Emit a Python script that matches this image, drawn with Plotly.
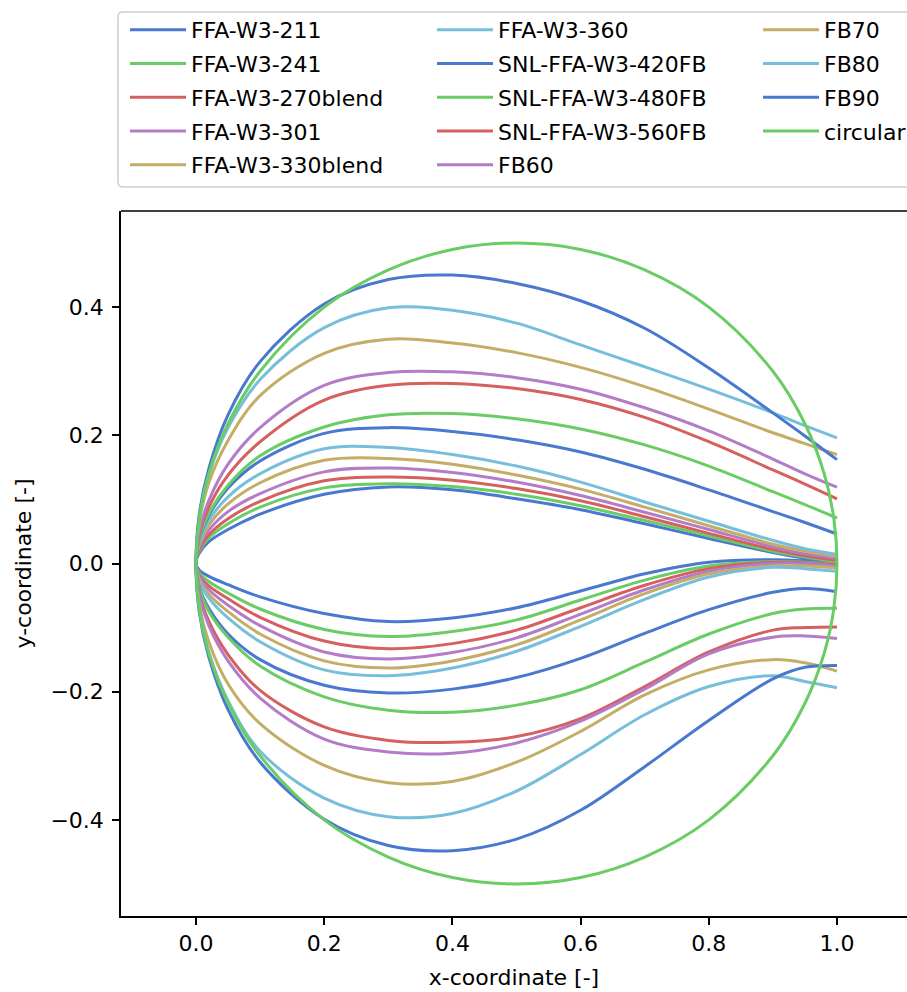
import plotly.graph_objects as go

# Chordwise stations (x/c) shared by the airfoil surfaces, leading edge first
X_STATIONS = [0.0, 0.005, 0.02, 0.05, 0.1, 0.2, 0.3, 0.4, 0.5, 0.6, 0.7, 0.8, 0.9, 0.95, 1.0]

# Upper (suction) and lower (pressure) surface ordinates y/c at X_STATIONS
FFA_W3_211_UP = [0.0, 0.016, 0.034, 0.053, 0.077, 0.108, 0.1195, 0.115, 0.101, 0.084, 0.062, 0.039, 0.017, 0.008, 0.001]
FFA_W3_211_LO = [0.0, -0.010, -0.020, -0.033, -0.052, -0.078, -0.0905, -0.085, -0.069, -0.043, -0.016, 0.002, 0.006, 0.004, 0.0]

FFA_W3_241_UP = [0.0, 0.019, 0.040, 0.062, 0.088, 0.118, 0.1245, 0.120, 0.108, 0.090, 0.067, 0.043, 0.019, 0.010, 0.003]
FFA_W3_241_LO = [0.0, -0.014, -0.028, -0.046, -0.071, -0.103, -0.114, -0.106, -0.088, -0.057, -0.026, -0.004, 0.003, 0.002, -0.001]

FFA_W3_270_UP = [0.0, 0.022, 0.045, 0.070, 0.097, 0.129, 0.135, 0.130, 0.117, 0.098, 0.073, 0.047, 0.022, 0.012, 0.005]
FFA_W3_270_LO = [0.0, -0.018, -0.035, -0.055, -0.084, -0.121, -0.133, -0.125, -0.104, -0.069, -0.034, -0.008, 0.002, 0.001, -0.002]

FFA_W3_301_UP = [0.0, 0.026, 0.052, 0.081, 0.109, 0.143, 0.149, 0.142, 0.127, 0.106, 0.080, 0.053, 0.026, 0.015, 0.008]
FFA_W3_301_LO = [0.0, -0.021, -0.041, -0.065, -0.097, -0.138, -0.149, -0.139, -0.116, -0.079, -0.041, -0.012, 0.000, 0.000, -0.004]

FFA_W3_330_UP = [0.0, 0.030, 0.060, 0.093, 0.126, 0.161, 0.164, 0.155, 0.138, 0.116, 0.088, 0.059, 0.030, 0.019, 0.011]
FFA_W3_330_LO = [0.0, -0.025, -0.048, -0.075, -0.110, -0.152, -0.163, -0.152, -0.127, -0.088, -0.047, -0.016, -0.004, -0.004, -0.007]

FFA_W3_360_UP = [0.0, 0.034, 0.067, 0.104, 0.140, 0.179, 0.181, 0.170, 0.152, 0.127, 0.096, 0.066, 0.036, 0.023, 0.014]
FFA_W3_360_LO = [0.0, -0.028, -0.054, -0.085, -0.122, -0.166, -0.175, -0.163, -0.137, -0.098, -0.056, -0.021, -0.006, -0.008, -0.012]

SNL_420FB_UP = [0.0, 0.038, 0.075, 0.118, 0.160, 0.203, 0.212, 0.206, 0.193, 0.174, 0.147, 0.115, 0.081, 0.064, 0.046]
SNL_420FB_LO = [0.0, -0.036, -0.070, -0.110, -0.150, -0.190, -0.202, -0.196, -0.178, -0.148, -0.109, -0.072, -0.045, -0.039, -0.044]

SNL_480FB_UP = [0.0, 0.040, 0.078, 0.122, 0.168, 0.213, 0.232, 0.234, 0.226, 0.210, 0.185, 0.152, 0.112, 0.092, 0.071]
SNL_480FB_LO = [0.0, -0.038, -0.075, -0.115, -0.160, -0.208, -0.229, -0.232, -0.221, -0.197, -0.154, -0.110, -0.078, -0.071, -0.070]

SNL_560FB_UP = [0.0, 0.045, 0.088, 0.138, 0.190, 0.255, 0.278, 0.281, 0.273, 0.256, 0.228, 0.190, 0.146, 0.124, 0.101]
SNL_560FB_LO = [0.0, -0.046, -0.090, -0.142, -0.198, -0.255, -0.276, -0.279, -0.270, -0.242, -0.192, -0.138, -0.104, -0.100, -0.099]

FB60_UP = [0.0, 0.050, 0.098, 0.155, 0.212, 0.278, 0.298, 0.299, 0.290, 0.272, 0.243, 0.207, 0.163, 0.140, 0.119]
FB60_LO = [0.0, -0.050, -0.097, -0.152, -0.210, -0.274, -0.294, -0.296, -0.280, -0.246, -0.196, -0.141, -0.115, -0.113, -0.117]

FB70_UP = [0.0, 0.064, 0.126, 0.192, 0.262, 0.328, 0.350, 0.344, 0.329, 0.306, 0.276, 0.241, 0.204, 0.187, 0.170]
FB70_LO = [0.0, -0.063, -0.122, -0.188, -0.250, -0.315, -0.342, -0.340, -0.310, -0.262, -0.205, -0.166, -0.150, -0.155, -0.168]

FB80_UP = [0.0, 0.070, 0.138, 0.212, 0.287, 0.368, 0.399, 0.395, 0.375, 0.341, 0.307, 0.272, 0.235, 0.215, 0.196]
FB80_LO = [0.0, -0.070, -0.138, -0.214, -0.293, -0.366, -0.395, -0.390, -0.355, -0.298, -0.236, -0.192, -0.175, -0.184, -0.194]

FB90_UP = [0.0, 0.076, 0.148, 0.232, 0.315, 0.405, 0.443, 0.450, 0.437, 0.410, 0.367, 0.305, 0.235, 0.199, 0.162]
FB90_LO = [0.0, -0.075, -0.146, -0.228, -0.310, -0.399, -0.440, -0.448, -0.430, -0.385, -0.317, -0.245, -0.180, -0.162, -0.159]

# Circular section, sampled on its own stations
CIRCLE_X = [0.0, 0.005, 0.02, 0.05, 0.1, 0.2, 0.3, 0.4, 0.5, 0.6, 0.7, 0.8, 0.9, 0.95, 0.98, 0.995, 1.0]
CIRCLE_UP = [0.0, 0.0705, 0.140, 0.218, 0.300, 0.400, 0.458, 0.490, 0.500, 0.490, 0.458, 0.400, 0.300, 0.218, 0.140, 0.0705, 0.0]
CIRCLE_LO = [0.0, -0.0705, -0.140, -0.218, -0.300, -0.400, -0.458, -0.490, -0.500, -0.490, -0.458, -0.400, -0.300, -0.218, -0.140, -0.0705, 0.0]

LABELS = ["FFA-W3-211", "FFA-W3-241", "FFA-W3-270blend", "FFA-W3-301", "FFA-W3-330blend",
          "FFA-W3-360", "SNL-FFA-W3-420FB", "SNL-FFA-W3-480FB", "SNL-FFA-W3-560FB", "FB60",
          "FB70", "FB80", "FB90", "circular"]

X_TICKS = [0.0, 0.2, 0.4, 0.6, 0.8, 1.0]
X_TICK_TEXT = ["0.0", "0.2", "0.4", "0.6", "0.8", "1.0"]
Y_TICKS = [-0.4, -0.2, 0.0, 0.2, 0.4]
Y_TICK_TEXT = ["\u22120.4", "\u22120.2", "0.0", "0.2", "0.4"]

PALETTE = ["#4878CF", "#6ACC65", "#D65F5F", "#B47CC7", "#C4AD66", "#77BEDB"]

SURFACES = [
    (X_STATIONS, FFA_W3_211_UP, FFA_W3_211_LO),
    (X_STATIONS, FFA_W3_241_UP, FFA_W3_241_LO),
    (X_STATIONS, FFA_W3_270_UP, FFA_W3_270_LO),
    (X_STATIONS, FFA_W3_301_UP, FFA_W3_301_LO),
    (X_STATIONS, FFA_W3_330_UP, FFA_W3_330_LO),
    (X_STATIONS, FFA_W3_360_UP, FFA_W3_360_LO),
    (X_STATIONS, SNL_420FB_UP, SNL_420FB_LO),
    (X_STATIONS, SNL_480FB_UP, SNL_480FB_LO),
    (X_STATIONS, SNL_560FB_UP, SNL_560FB_LO),
    (X_STATIONS, FB60_UP, FB60_LO),
    (X_STATIONS, FB70_UP, FB70_LO),
    (X_STATIONS, FB80_UP, FB80_LO),
    (X_STATIONS, FB90_UP, FB90_LO),
    (CIRCLE_X, CIRCLE_UP, CIRCLE_LO),
]

LEGEND_IDS = ["legend", "legend2", "legend3"]
LEGEND_LEFT_PX = [125, 432, 758]

FONT = "DejaVu Sans"
FS = 22
W, H = 907, 992
ML, MT, MB = 121, 211, 76
PLOT_W = W - ML
PLOT_H = H - MT - MB


def px_x(p):
    return (p - ML) / PLOT_W


def px_y(p):
    return (H - MB - p) / PLOT_H


fig = go.Figure()
for i, (name, (xs, up, lo)) in enumerate(zip(LABELS, SURFACES)):
    # trailing edge -> leading edge along the upper side, then back along the lower side
    x_path = list(xs[::-1]) + list(xs[1:])
    y_path = list(up[::-1]) + list(lo[1:])
    fig.add_trace(go.Scatter(
        x=x_path, y=y_path, mode="lines", name=name,
        line=dict(color=PALETTE[i % len(PALETTE)], width=3, shape="spline", smoothing=1.0),
        legend=LEGEND_IDS[i // 5], legendgroup=name, hoverinfo="skip",
    ))

axis_common = dict(
    ticks="outside", ticklen=7, tickwidth=1.6, tickcolor="black",
    showline=True, linewidth=1.6, linecolor="black",
    showgrid=False, zeroline=False, mirror=False,
    tickfont=dict(family=FONT, size=FS, color="black"),
)

legend_common = dict(
    xanchor="left", yanchor="top", bgcolor="rgba(0,0,0,0)", borderwidth=0,
    font=dict(family=FONT, size=FS, color="black"),
    traceorder="grouped", tracegroupgap=2.15, itemwidth=56,
)

fig.update_layout(
    width=W, height=H,
    margin=dict(l=ML, r=0, t=MT, b=MB, pad=0, autoexpand=False),
    paper_bgcolor="white", plot_bgcolor="white",
    font=dict(family=FONT, size=FS, color="black"),
    xaxis=dict(range=[-0.117, -0.117 + PLOT_W / 641.0], tickvals=X_TICKS, ticktext=X_TICK_TEXT,
               title=dict(text="x-coordinate [-]", font=dict(family=FONT, size=FS), standoff=14),
               **axis_common),
    yaxis=dict(range=[-0.55, 0.55], tickvals=Y_TICKS, ticktext=Y_TICK_TEXT,
               ticklabelstandoff=4,
               title=dict(text="y-coordinate [-]", font=dict(family=FONT, size=FS), standoff=13),
               **axis_common),
    legend=dict(x=px_x(LEGEND_LEFT_PX[0]), y=px_y(9), **legend_common),
    legend2=dict(x=px_x(LEGEND_LEFT_PX[1]), y=px_y(9), **legend_common),
    legend3=dict(x=px_x(LEGEND_LEFT_PX[2]), y=px_y(9), **legend_common),
    showlegend=True,
)

# rounded legend frame (its right side runs past the page edge)
xl, xr = px_x(118), px_x(930)
yt, yb = px_y(12), px_y(187)
rx, ry = 5 / PLOT_W, 5 / PLOT_H
frame = (f"M{xr},{yt} L{xl + rx},{yt} Q{xl},{yt} {xl},{yt - ry} "
         f"L{xl},{yb + ry} Q{xl},{yb} {xl + rx},{yb} L{xr},{yb}")
fig.add_shape(type="path", path=frame, xref="paper", yref="paper",
              line=dict(color="#d0d0d0", width=1.6), layer="below")
# top spine of the axes box
fig.add_shape(type="line", xref="paper", yref="paper", x0=0, x1=1, y0=1, y1=1,
              line=dict(color="black", width=1.6))

fig.write_html("out.html", config={"displayModeBar": False})
